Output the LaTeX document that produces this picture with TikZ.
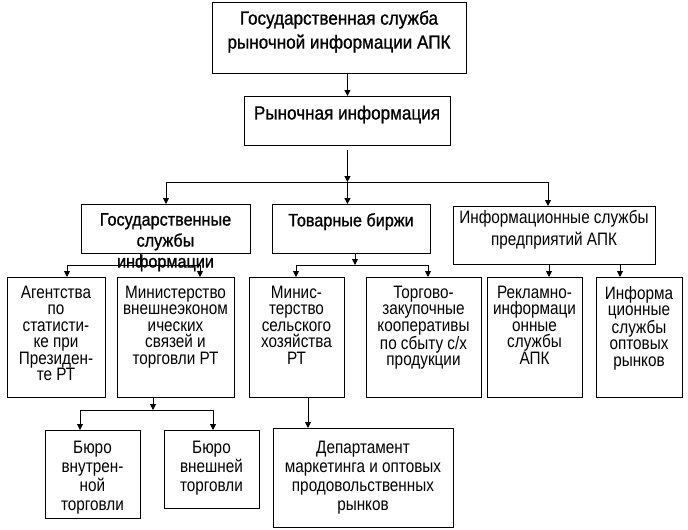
\documentclass[tikz,border=0pt]{standalone}
\usepackage{fontspec}
\setmainfont{Liberation Sans}[FakeStretch=0.85]
\newfontfamily\strongfont{Liberation Sans}[FakeStretch=0.9,FakeBold=1]
\usetikzlibrary{arrows.meta,calc}
\begin{document}
\begin{tikzpicture}[x=1pt,y=-1pt,
  box/.style={draw,line width=0.9pt,rectangle,inner sep=0pt,anchor=north west},
  txt/.style={inner sep=0pt,anchor=north,align=center,font=\fontsize{18}{16.4}\selectfont},
  strong/.style={inner sep=0pt,anchor=north,align=center},
  arr/.style={line width=0.9pt,-{Triangle[length=6pt,width=6pt]}},
  ln/.style={line width=0.9pt}]
\useasboundingbox (0,0) rectangle (688,530);
% level 0-1
\node[box,minimum width=254pt,minimum height=71pt] (top) at (212,2) {};
\node[strong,font=\strongfont\fontsize{19}{24}\selectfont] (ttop) at (339,10.5) {Государственная служба\\рыночной информации АПК};
\node[box,minimum width=206pt,minimum height=49pt] (ri) at (244,96) {};
\node[strong,font=\strongfont\fontsize{19}{24}\selectfont] (tri) at (347,105.5) {Рыночная информация};
% level 2
\node[box,minimum width=169pt,minimum height=49pt] (gs) at (81,204) {};
\node[strong,font=\strongfont\fontsize{18}{21}\selectfont] (tgs) at (165.5,213) {Государственные\\службы\\информации};
\node[box,minimum width=158pt,minimum height=49pt] (tb) at (272,204) {};
\node[strong,font=\strongfont\fontsize{18}{21}\selectfont] (ttb) at (351,213) {Товарные биржи};
\node[box,minimum width=202pt,minimum height=58pt] (is) at (453,206) {};
\node[txt,font=\fontsize{18}{22}\selectfont] (tis) at (554,210) {Информационные службы\\предприятий АПК};
% level 3
\node[box,minimum width=98pt,minimum height=120pt] (ag) at (7,277) {};
\node[txt] (tag) at (56,286) {Агентства\\по\\статисти-\\ке при\\Президен-\\те РТ};
\node[box,minimum width=117pt,minimum height=120pt] (mv) at (117,277) {};
\node[txt] (tmv) at (175.5,286) {Министерство\\внешнеэконом\\ических\\связей и\\торговли РТ};
\node[box,minimum width=95pt,minimum height=120pt] (ms) at (249,277) {};
\node[txt] (tms) at (296.5,286) {Минис-\\терство\\сельского\\хозяйства\\РТ};
\node[box,minimum width=115pt,minimum height=120pt] (tz) at (366,277) {};
\node[txt] (ttz) at (423.5,286) {Торгово-\\закупочные\\кооперативы\\по сбыту с/х\\продукции};
\node[box,minimum width=95pt,minimum height=120pt] (ri2) at (487,277) {};
\node[txt] (tri2) at (534.5,286) {Рекламно-\\информаци\\онные\\службы\\АПК};
\node[box,minimum width=86pt,minimum height=120pt] (io) at (596,277) {};
\node[txt] (tio) at (639,286) {Информа\\ционные\\службы\\оптовых\\рынков};
% level 4
\node[box,minimum width=95pt,minimum height=88pt] (bvn) at (45,430) {};
\node[txt,font=\fontsize{18}{19}\selectfont] (tbvn) at (92.5,441) {Бюро\\внутрен-\\ной\\торговли};
\node[box,minimum width=95pt,minimum height=78pt] (bvs) at (164,430) {};
\node[txt,font=\fontsize{18}{19}\selectfont] (tbvs) at (211.5,441) {Бюро\\внешней\\торговли};
\node[box,minimum width=180pt,minimum height=99pt] (dep) at (273,428) {};
\node[txt,font=\fontsize{18}{19}\selectfont] (tdep) at (363,441) {Департамент\\маркетинга и оптовых\\продовольственных\\рынков};
% bus coordinates
\coordinate (busL) at (166,182);
\coordinate (busR) at (548,182);
\coordinate (gsL) at (67,265);
\coordinate (gsR) at (200,265);
\coordinate (gsV) at (140,265);
\coordinate (tbL) at (296,265);
\coordinate (tbR) at (428,265);
\coordinate (tbV) at (355,265);
\coordinate (isL) at (549,264);
\coordinate (isR) at (620,264);
\coordinate (mvL) at (80,410);
\coordinate (mvR) at (213,410);
\coordinate (mvV) at (153,410);
\coordinate (msV) at (308,397);
% connectors
\draw[arr] (top.south -| ri.north) -- (ri.north);
\draw[arr,shorten <=4pt] (ri.south) -- (ri.south |- busL);
\draw[ln] (busL) -- (busR);
\draw[arr] (busL) -- (busL |- gs.north);
\draw[arr] (ri.south |- busL) -- (ri.south |- tb.north);
\draw[arr] (busR) -- (busR |- is.north);
\draw[ln] (gsV |- gs.south) -- (gsV);
\draw[ln] (gsL) -- (gsR);
\draw[arr] (gsL) -- (gsL |- ag.north);
\draw[arr] (gsR) -- (gsR |- mv.north);
\draw[arr] (tbV |- tb.south) -- (tbV);
\draw[ln] (tbL) -- (tbR);
\draw[arr] (tbL) -- (tbL |- ms.north);
\draw[arr] (tbR) -- (tbR |- tz.north);
\draw[arr] (isL) -- (isL |- ri2.north);
\draw[arr] (isR) -- (isR |- io.north);
\draw[arr] (mvV |- mv.south) -- (mvV);
\draw[ln] (mvL) -- (mvR);
\draw[arr] (mvL) -- (mvL |- bvn.north);
\draw[arr] (mvR) -- (mvR |- bvs.north);
\draw[arr] (msV) -- (msV |- dep.north);
\end{tikzpicture}
\end{document}
